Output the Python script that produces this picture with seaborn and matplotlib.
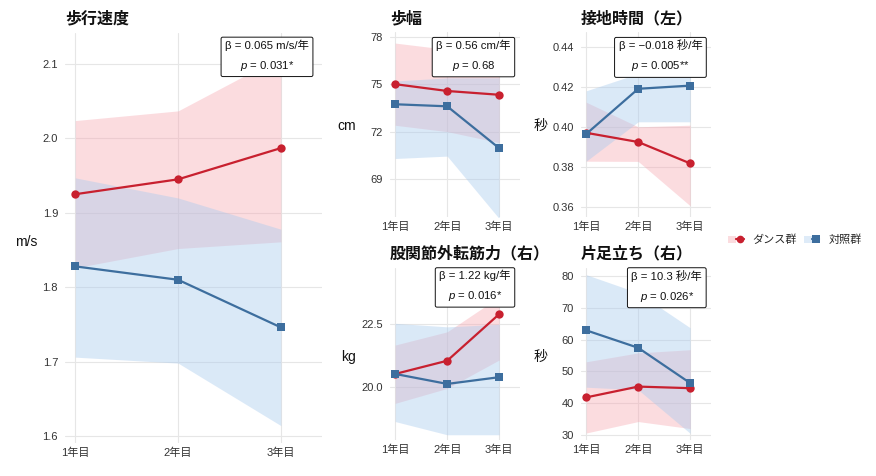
import matplotlib
matplotlib.use("Agg")
import matplotlib.pyplot as plt
import seaborn as sns
import numpy as np
import pandas as pd
from matplotlib.lines import Line2D
from matplotlib.patches import Patch
from matplotlib.legend_handler import HandlerTuple

# ---------------- data ----------------
years = ["1年目", "2年目", "3年目"]
groups = ["ダンス群", "対照群"]

titles = ["歩行速度", "歩幅", "接地時間（左）", "股関節外転筋力（右）", "片足立ち（右）"]
units = ["m/s", "cm", "秒", "kg", "秒"]
beta_text = ["β = 0.065 m/s/年", "β = 0.56 cm/年", "β = −0.018 秒/年", "β = 1.22 kg/年", "β = 10.3 秒/年"]
p_text = ["0.031*", "0.68", "0.005**", "0.016*", "0.026*"]

speed_dance = [1.925, 1.945, 1.987]
speed_dance_lo = [1.826, 1.852, 1.861]
speed_dance_hi = [2.024, 2.037, 2.110]
speed_ctrl = [1.828, 1.810, 1.746]
speed_ctrl_lo = [1.706, 1.698, 1.614]
speed_ctrl_hi = [1.947, 1.920, 1.878]

stride_dance = [75.0, 74.57, 74.33]
stride_dance_lo = [72.4, 72.0, 71.3]
stride_dance_hi = [77.6, 77.2, 77.3]
stride_ctrl = [73.73, 73.6, 70.95]
stride_ctrl_lo = [70.3, 70.45, 66.5]
stride_ctrl_hi = [75.2, 75.4, 75.4]

contact_dance = [0.397, 0.3924, 0.3817]
contact_dance_lo = [0.3828, 0.3827, 0.3605]
contact_dance_hi = [0.4123, 0.4000, 0.4008]
contact_ctrl = [0.3964, 0.4190, 0.4206]
contact_ctrl_lo = [0.3828, 0.4025, 0.4025]
contact_ctrl_hi = [0.4180, 0.4266, 0.4300]

hip_dance = [20.51, 21.04, 22.91]
hip_dance_lo = [19.33, 19.93, 21.07]
hip_dance_hi = [21.67, 22.20, 23.60]
hip_ctrl = [20.51, 20.11, 20.38]
hip_ctrl_lo = [18.60, 18.07, 18.07]
hip_ctrl_hi = [22.54, 22.40, 22.50]

stand_dance = [41.8, 45.2, 44.7]
stand_dance_lo = [30.6, 34.2, 32.0]
stand_dance_hi = [53.0, 55.8, 56.8]
stand_ctrl = [62.9, 57.4, 46.3]
stand_ctrl_lo = [45.0, 44.2, 30.5]
stand_ctrl_hi = [80.4, 74.7, 63.7]

yticks = [
    [1.6, 1.7, 1.8, 1.9, 2.0, 2.1],
    [69, 72, 75, 78],
    [0.36, 0.38, 0.40, 0.42, 0.44],
    [20.0, 22.5],
    [30, 40, 50, 60, 70, 80],
]
ytick_fmt = ["{:.1f}", "{:.0f}", "{:.2f}", "{:.1f}", "{:.0f}"]

panels = [
    (speed_dance, speed_dance_lo, speed_dance_hi, speed_ctrl, speed_ctrl_lo, speed_ctrl_hi),
    (stride_dance, stride_dance_lo, stride_dance_hi, stride_ctrl, stride_ctrl_lo, stride_ctrl_hi),
    (contact_dance, contact_dance_lo, contact_dance_hi, contact_ctrl, contact_ctrl_lo, contact_ctrl_hi),
    (hip_dance, hip_dance_lo, hip_dance_hi, hip_ctrl, hip_ctrl_lo, hip_ctrl_hi),
    (stand_dance, stand_dance_lo, stand_dance_hi, stand_ctrl, stand_ctrl_lo, stand_ctrl_hi),
]

# ---------------- style ----------------
sns.set_theme(style="whitegrid")
plt.rcParams["font.family"] = ["Liberation Sans", "Noto Sans CJK JP", "DejaVu Sans"]
plt.rcParams["mathtext.fontset"] = "custom"
plt.rcParams["mathtext.it"] = "Liberation Sans:italic"
plt.rcParams["mathtext.rm"] = "Liberation Sans"

line_colors = {"ダンス群": "#C8202F", "対照群": "#3D6E9E"}
fill_colors = {"ダンス群": "#F7A3AD", "対照群": "#A9CBEE"}
fill_alpha = 0.38
markers = {"ダンス群": "o", "対照群": "s"}

W, H = 876, 476
fig = plt.figure(figsize=(W / 100, H / 100), dpi=100)
fig.patch.set_facecolor("white")

# pixel boxes: left, right, top, bottom
boxes = [
    (65, 322, 33, 443),
    (390, 520, 32, 217),
    (581, 711, 32, 217),
    (390, 520, 268, 440),
    (581, 711, 268, 440),
]
ylims = [(1.5906, 2.1417), (66.6, 78.3), (0.3549, 0.4474), (17.86, 24.76), (28.4, 82.5)]
ylabel_pos = [(-0.152, 0.49), (-0.33, 0.49), (-0.315, 0.49), (-0.323, 0.483), (-0.315, 0.483)]
annot_pos = [(0.786, 0.985), (0.642, 0.960), (0.611, 0.960), (0.654, 0.990), (0.66, 0.990)]
title_pad = [7, 6, 6, 7, 7]

for i, (l, r, t, b) in enumerate(boxes):
    ax = fig.add_axes([l / W, 1 - b / H, (r - l) / W, (b - t) / H])
    ax.set_facecolor("white")
    d, dlo, dhi, c, clo, chi = panels[i]
    x = np.arange(len(years))
    ax.fill_between(x, dlo, dhi, color=fill_colors["ダンス群"], alpha=fill_alpha, linewidth=0, zorder=1)
    ax.fill_between(x, clo, chi, color=fill_colors["対照群"], alpha=fill_alpha + 0.04, linewidth=0, zorder=1)
    df = pd.DataFrame({
        "x": np.concatenate([x, x]),
        "value": list(d) + list(c),
        "group": [groups[0]] * 3 + [groups[1]] * 3,
    })
    sns.lineplot(data=df, x="x", y="value", hue="group", style="group",
                 hue_order=groups, style_order=groups, palette=line_colors,
                 markers=markers, dashes=False, markersize=6, linewidth=1.6,
                 markeredgewidth=0, legend=False, errorbar=None, ax=ax, zorder=3)
    ax.set_xlim(-0.1, 2.4)
    ax.set_ylim(*ylims[i])
    ax.set_xticks(x)
    ax.set_xticklabels(years)
    ax.set_yticks(yticks[i])
    ax.set_yticklabels([ytick_fmt[i].format(v) for v in yticks[i]])
    ax.tick_params(axis="x", length=0, pad=3, labelsize=8, labelcolor="#333333")
    ax.tick_params(axis="y", length=0, pad=5, labelsize=8, labelcolor="#333333")
    ax.grid(True, color="#E6E6E6", linewidth=0.8)
    for s in ax.spines.values():
        s.set_visible(False)
    ax.set_xlabel("")
    ax.set_ylabel(units[i], rotation=0, fontsize=10, color="#111111", ha="center", va="center")
    ax.yaxis.set_label_coords(*ylabel_pos[i])
    ax.set_title(titles[i], loc="left", pad=title_pad[i], fontsize=11.5, fontweight="bold", color="#111111")
    ax.text(annot_pos[i][0], annot_pos[i][1], beta_text[i] + "\n$p$ = " + p_text[i],
            transform=ax.transAxes, ha="center", va="top", fontsize=8.2, linespacing=1.8,
            multialignment="center", color="#111111", zorder=5,
            bbox=dict(boxstyle="round,pad=0.35,rounding_size=0.15", fc="white", ec="#111111", lw=0.7))

handles = []
for g in groups:
    handles.append((Patch(facecolor=fill_colors[g], alpha=fill_alpha, edgecolor="none"),
                    Line2D([0], [0], color=line_colors[g], marker=markers[g], markersize=5.5,
                           markeredgewidth=0, linewidth=1.6)))
fig.legend(handles, groups, loc="center", bbox_to_anchor=(795 / W, 1 - 240 / H), ncol=2,
           frameon=False, fontsize=8, handler_map={tuple: HandlerTuple(ndivide=None, pad=0)},
           handlelength=1.4, handletextpad=0.8, columnspacing=0.6)

fig.savefig("out.png", dpi=100, facecolor="white")
